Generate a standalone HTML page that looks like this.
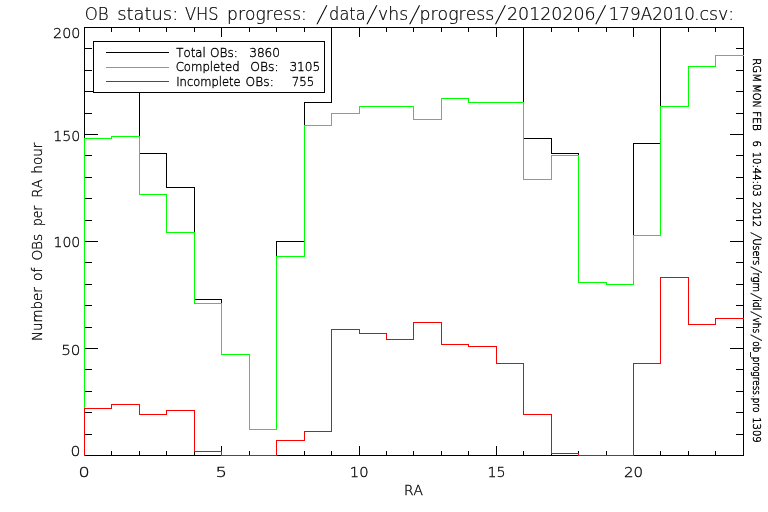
<!DOCTYPE html>
<html lang="en"><head><meta charset="utf-8"><title>OB status: VHS progress</title>
<style>
html,body{margin:0;padding:0;background:#fff;}
body{width:768px;height:512px;overflow:hidden;}
svg{display:block;will-change:transform;}
text{font-family:"DejaVu Sans","Liberation Sans",sans-serif;font-weight:200;fill:#000;font-kerning:none;white-space:pre;}
.ln{fill:none;stroke-width:1;stroke-linecap:square;stroke-linejoin:miter;shape-rendering:crispEdges;}
</style></head><body>
<svg width="768" height="512" viewBox="0 0 768 512">
<rect x="0" y="0" width="768" height="512" fill="#fff"/>
<path class="ln" stroke="#000" d="M84.5 27.5 H743.5 V455.5 H84.5 Z"/>
<path class="ln" stroke="#000" d="M84.5 455.5 v-9 M84.5 27.5 v9 M111.5 455.5 v-4 M111.5 27.5 v4 M139.5 455.5 v-4 M139.5 27.5 v4 M166.5 455.5 v-4 M166.5 27.5 v4 M194.5 455.5 v-4 M194.5 27.5 v4 M221.5 455.5 v-9 M221.5 27.5 v9 M249.5 455.5 v-4 M249.5 27.5 v4 M276.5 455.5 v-4 M276.5 27.5 v4 M304.5 455.5 v-4 M304.5 27.5 v4 M331.5 455.5 v-4 M331.5 27.5 v4 M359.5 455.5 v-9 M359.5 27.5 v9 M386.5 455.5 v-4 M386.5 27.5 v4 M413.5 455.5 v-4 M413.5 27.5 v4 M441.5 455.5 v-4 M441.5 27.5 v4 M468.5 455.5 v-4 M468.5 27.5 v4 M496.5 455.5 v-9 M496.5 27.5 v9 M523.5 455.5 v-4 M523.5 27.5 v4 M551.5 455.5 v-4 M551.5 27.5 v4 M578.5 455.5 v-4 M578.5 27.5 v4 M606.5 455.5 v-4 M606.5 27.5 v4 M633.5 455.5 v-9 M633.5 27.5 v9 M660.5 455.5 v-4 M660.5 27.5 v4 M688.5 455.5 v-4 M688.5 27.5 v4 M715.5 455.5 v-4 M715.5 27.5 v4 M743.5 455.5 v-4 M743.5 27.5 v4 M84.5 455.5 h13 M743.5 455.5 h-13 M84.5 434.5 h7 M743.5 434.5 h-7 M84.5 412.5 h7 M743.5 412.5 h-7 M84.5 391.5 h7 M743.5 391.5 h-7 M84.5 369.5 h7 M743.5 369.5 h-7 M84.5 348.5 h13 M743.5 348.5 h-13 M84.5 327.5 h7 M743.5 327.5 h-7 M84.5 305.5 h7 M743.5 305.5 h-7 M84.5 284.5 h7 M743.5 284.5 h-7 M84.5 262.5 h7 M743.5 262.5 h-7 M84.5 241.5 h13 M743.5 241.5 h-13 M84.5 220.5 h7 M743.5 220.5 h-7 M84.5 198.5 h7 M743.5 198.5 h-7 M84.5 177.5 h7 M743.5 177.5 h-7 M84.5 155.5 h7 M743.5 155.5 h-7 M84.5 134.5 h13 M743.5 134.5 h-13 M84.5 113.5 h7 M743.5 113.5 h-7 M84.5 91.5 h7 M743.5 91.5 h-7 M84.5 70.5 h7 M743.5 70.5 h-7 M84.5 48.5 h7 M743.5 48.5 h-7 M84.5 27.5 h13 M743.5 27.5 h-13"/>
<path class="ln" stroke="#000" d="M84.5 455.5 L84.5 91.5 L111.5 91.5 L111.5 85.5 L139.5 85.5 L139.5 153.5 L166.5 153.5 L166.5 187.5 L194.5 187.5 L194.5 299.5 L221.5 299.5 L221.5 354.5 L249.5 354.5 L249.5 429.5 L276.5 429.5 L276.5 241.5 L304.5 241.5 L304.5 102.5 L331.5 102.5 L331.5 27.5 M523.5 27.5 L523.5 138.5 L551.5 138.5 L551.5 153.5 L578.5 153.5 L578.5 282.5 L606.5 282.5 L606.5 284.5 L633.5 284.5 L633.5 143.5 L660.5 143.5 L660.5 27.5"/>
<path class="ln" stroke="#0f0" d="M84.5 455.5 L84.5 138.5 L111.5 138.5 L111.5 136.5 L139.5 136.5 L139.5 194.5 L166.5 194.5 L166.5 232.5 L194.5 232.5 L194.5 303.5 L221.5 303.5 L221.5 354.5 L249.5 354.5 L249.5 429.5 L276.5 429.5 L276.5 256.5 L304.5 256.5 L304.5 125.5 L331.5 125.5 L331.5 113.5 L359.5 113.5 L359.5 106.5 L386.5 106.5 L386.5 106.5 L413.5 106.5 L413.5 119.5 L441.5 119.5 L441.5 98.5 L468.5 98.5 L468.5 102.5 L496.5 102.5 L496.5 102.5 L523.5 102.5 L523.5 179.5 L551.5 179.5 L551.5 155.5 L578.5 155.5 L578.5 282.5 L606.5 282.5 L606.5 284.5 L633.5 284.5 L633.5 235.5 L660.5 235.5 L660.5 106.5 L688.5 106.5 L688.5 66.5 L715.5 66.5 L715.5 55.5 L743.5 55.5"/>
<path class="ln" stroke="#f00" d="M84.5 455.5 L84.5 408.5 L111.5 408.5 L111.5 404.5 L139.5 404.5 L139.5 414.5 L166.5 414.5 L166.5 410.5 L194.5 410.5 L194.5 451.5 L221.5 451.5 L221.5 455.5 L249.5 455.5 L249.5 455.5 L276.5 455.5 L276.5 440.5 L304.5 440.5 L304.5 431.5 L331.5 431.5 L331.5 329.5 L359.5 329.5 L359.5 333.5 L386.5 333.5 L386.5 339.5 L413.5 339.5 L413.5 322.5 L441.5 322.5 L441.5 344.5 L468.5 344.5 L468.5 346.5 L496.5 346.5 L496.5 363.5 L523.5 363.5 L523.5 414.5 L551.5 414.5 L551.5 453.5 L578.5 453.5 L578.5 455.5 L606.5 455.5 L606.5 455.5 L633.5 455.5 L633.5 363.5 L660.5 363.5 L660.5 277.5 L688.5 277.5 L688.5 324.5 L715.5 324.5 L715.5 318.5 L743.5 318.5"/>
<rect x="93.5" y="41.5" width="231" height="51" fill="#fff" stroke="#000" stroke-width="1" shape-rendering="crispEdges"/>
<path class="ln" stroke="#000" d="M106.5 52.5 H168.5"/>
<path class="ln" stroke="#0f0" d="M106.5 67.5 H168.5"/>
<path class="ln" stroke="#f00" d="M106.5 81.5 H168.5"/>
<text y="57" font-size="12.35" stroke="#000" stroke-width="0.37"><tspan x="176.34" textLength="29.36" lengthAdjust="spacingAndGlyphs">Total</tspan> <tspan x="210.01" textLength="27.93" lengthAdjust="spacingAndGlyphs">OBs:</tspan> <tspan x="249.18" textLength="30.85" lengthAdjust="spacingAndGlyphs">3860</tspan></text>
<text y="71.3" font-size="12.35" stroke="#000" stroke-width="0.37"><tspan x="175.63" textLength="63.96" lengthAdjust="spacingAndGlyphs">Completed</tspan> <tspan x="250.19" textLength="28.38" lengthAdjust="spacingAndGlyphs">OBs:</tspan> <tspan x="289.38" textLength="30.87" lengthAdjust="spacingAndGlyphs">3105</tspan></text>
<text y="85.8" font-size="12.35" stroke="#000" stroke-width="0.37"><tspan x="176.21" textLength="64.36" lengthAdjust="spacingAndGlyphs">Incomplete</tspan> <tspan x="245.60" textLength="28.16" lengthAdjust="spacingAndGlyphs">OBs:</tspan> <tspan x="291.83" textLength="22.48" lengthAdjust="spacingAndGlyphs">755</tspan></text>
<text y="20" font-size="17.8" stroke="#000" stroke-width="0.23"><tspan x="84.64" textLength="23.99" lengthAdjust="spacingAndGlyphs">OB</tspan> <tspan x="117.15" textLength="61.12" lengthAdjust="spacingAndGlyphs">status:</tspan> <tspan x="185.01" textLength="33.62" lengthAdjust="spacingAndGlyphs">VHS</tspan> <tspan x="227.04" textLength="79.81" lengthAdjust="spacingAndGlyphs">progress:</tspan></text>
<text transform="translate(0,20) translate(316.38,1.88) skewX(-11.72)" font-size="23.10">/</text>
<text y="20" font-size="17.8" stroke="#000" stroke-width="0.23"><tspan x="329.11" textLength="36.47" lengthAdjust="spacingAndGlyphs">data</tspan></text>
<text transform="translate(0,20) translate(366.48,1.88) skewX(-11.72)" font-size="23.10">/</text>
<text y="20" font-size="17.8" stroke="#000" stroke-width="0.23"><tspan x="378.11" textLength="30.03" lengthAdjust="spacingAndGlyphs">vhs</tspan></text>
<text transform="translate(0,20) translate(409.28,1.88) skewX(-11.72)" font-size="23.10">/</text>
<text y="20" font-size="17.8" stroke="#000" stroke-width="0.23"><tspan x="419.52" textLength="74.82" lengthAdjust="spacingAndGlyphs">progress</tspan></text>
<text transform="translate(0,20) translate(494.88,1.88) skewX(-11.72)" font-size="23.10">/</text>
<text y="20" font-size="17.8" stroke="#000" stroke-width="0.23"><tspan x="506.99" textLength="88.72" lengthAdjust="spacingAndGlyphs">20120206</tspan></text>
<text transform="translate(0,20) translate(595.18,1.88) skewX(-11.72)" font-size="23.10">/</text>
<text y="20" font-size="17.8" stroke="#000" stroke-width="0.23"><tspan x="608.66" textLength="86.20" lengthAdjust="spacingAndGlyphs">179A2010</tspan> <tspan x="693.93" textLength="40.27" lengthAdjust="spacingAndGlyphs">.csv:</tspan></text>
<text y="456" font-size="14.1" stroke="#000" stroke-width="0.29"><tspan x="70.60" textLength="9.95" lengthAdjust="spacingAndGlyphs">0</tspan></text>
<text y="354.9" font-size="14.1" stroke="#000" stroke-width="0.29"><tspan x="61.20" textLength="19.30" lengthAdjust="spacingAndGlyphs">50</tspan></text>
<text y="247.4" font-size="14.1" stroke="#000" stroke-width="0.29"><tspan x="53.45" textLength="26.85" lengthAdjust="spacingAndGlyphs">100</tspan></text>
<text y="140.9" font-size="14.1" stroke="#000" stroke-width="0.29"><tspan x="53.34" textLength="27.07" lengthAdjust="spacingAndGlyphs">150</tspan></text>
<text y="38.1" font-size="14.1" stroke="#000" stroke-width="0.29"><tspan x="53.11" textLength="27.32" lengthAdjust="spacingAndGlyphs">200</tspan></text>
<text y="477" font-size="13.7" stroke="#000" stroke-width="0.31"><tspan x="78.43" textLength="11.21" lengthAdjust="spacingAndGlyphs">0</tspan></text>
<text y="477" font-size="13.7" stroke="#000" stroke-width="0.31"><tspan x="215.52" textLength="11.49" lengthAdjust="spacingAndGlyphs">5</tspan></text>
<text y="477" font-size="13.7" stroke="#000" stroke-width="0.31"><tspan x="349.88" textLength="18.73" lengthAdjust="spacingAndGlyphs">10</tspan></text>
<text y="477" font-size="13.7" stroke="#000" stroke-width="0.31"><tspan x="487.43" textLength="18.16" lengthAdjust="spacingAndGlyphs">15</tspan></text>
<text y="477" font-size="13.7" stroke="#000" stroke-width="0.31"><tspan x="623.96" textLength="19.14" lengthAdjust="spacingAndGlyphs">20</tspan></text>
<text y="495" font-size="13.7" stroke="#000" stroke-width="0.31"><tspan x="403.90" textLength="19.06" lengthAdjust="spacingAndGlyphs">RA</tspan></text>
<text transform="translate(41.8,340) rotate(-90)" y="0" font-size="13.7" stroke="#000" stroke-width="0.31"><tspan x="-1.02" textLength="53.73" lengthAdjust="spacingAndGlyphs">Number</tspan> <tspan x="59.00" textLength="13.45" lengthAdjust="spacingAndGlyphs">of</tspan> <tspan x="79.39" textLength="26.79" lengthAdjust="spacingAndGlyphs">OBs</tspan> <tspan x="114.00" textLength="20.42" lengthAdjust="spacingAndGlyphs">per</tspan> <tspan x="142.15" textLength="18.50" lengthAdjust="spacingAndGlyphs">RA</tspan> <tspan x="166.36" textLength="31.05" lengthAdjust="spacingAndGlyphs">hour</tspan></text>
<text transform="translate(752.6,59.5) rotate(90)" y="0" font-size="10.5" stroke="#000" stroke-width="0.46"><tspan x="-1.26" textLength="23.79" lengthAdjust="spacingAndGlyphs">RGM</tspan> <tspan x="24.82" textLength="23.58" lengthAdjust="spacingAndGlyphs">MON</tspan> <tspan x="51.83" textLength="19.38" lengthAdjust="spacingAndGlyphs">FEB</tspan> <tspan x="81.11" textLength="6.47" lengthAdjust="spacingAndGlyphs">6</tspan> <tspan x="92.20" textLength="44.95" lengthAdjust="spacingAndGlyphs">10:44:03</tspan> <tspan x="142.31" textLength="25.18" lengthAdjust="spacingAndGlyphs">2012</tspan></text>
<text transform="translate(752.6,59.5) rotate(90) translate(172.65,1.10) skewX(-11.72)" font-size="13.51" stroke="#000" stroke-width="0.26">/</text>
<text transform="translate(752.6,59.5) rotate(90)" y="0" font-size="10.5" stroke="#000" stroke-width="0.46"><tspan x="179.03" textLength="26.75" lengthAdjust="spacingAndGlyphs">Users</tspan></text>
<text transform="translate(752.6,59.5) rotate(90) translate(207.05,1.10) skewX(-11.72)" font-size="13.51" stroke="#000" stroke-width="0.26">/</text>
<text transform="translate(752.6,59.5) rotate(90)" y="0" font-size="10.5" stroke="#000" stroke-width="0.46"><tspan x="212.97" textLength="19.69" lengthAdjust="spacingAndGlyphs">rgm</tspan></text>
<text transform="translate(752.6,59.5) rotate(90) translate(233.55,1.10) skewX(-11.72)" font-size="13.51" stroke="#000" stroke-width="0.26">/</text>
<text transform="translate(752.6,59.5) rotate(90)" y="0" font-size="10.5" stroke="#000" stroke-width="0.46"><tspan x="239.70" textLength="11.18" lengthAdjust="spacingAndGlyphs">idl</tspan></text>
<text transform="translate(752.6,59.5) rotate(90) translate(251.65,1.10) skewX(-11.72)" font-size="13.51" stroke="#000" stroke-width="0.26">/</text>
<text transform="translate(752.6,59.5) rotate(90)" y="0" font-size="10.5" stroke="#000" stroke-width="0.46"><tspan x="257.92" textLength="15.83" lengthAdjust="spacingAndGlyphs">vhs</tspan></text>
<text transform="translate(752.6,59.5) rotate(90) translate(275.05,1.10) skewX(-11.72)" font-size="13.51" stroke="#000" stroke-width="0.26">/</text>
<text transform="translate(752.6,59.5) rotate(90)" y="0" font-size="10.5" stroke="#000" stroke-width="0.46"><tspan x="281.80" textLength="71.10" lengthAdjust="spacingAndGlyphs">ob_progress.pro</tspan> <tspan x="357.71" textLength="25.36" lengthAdjust="spacingAndGlyphs">1309</tspan></text>
</svg></body></html>
